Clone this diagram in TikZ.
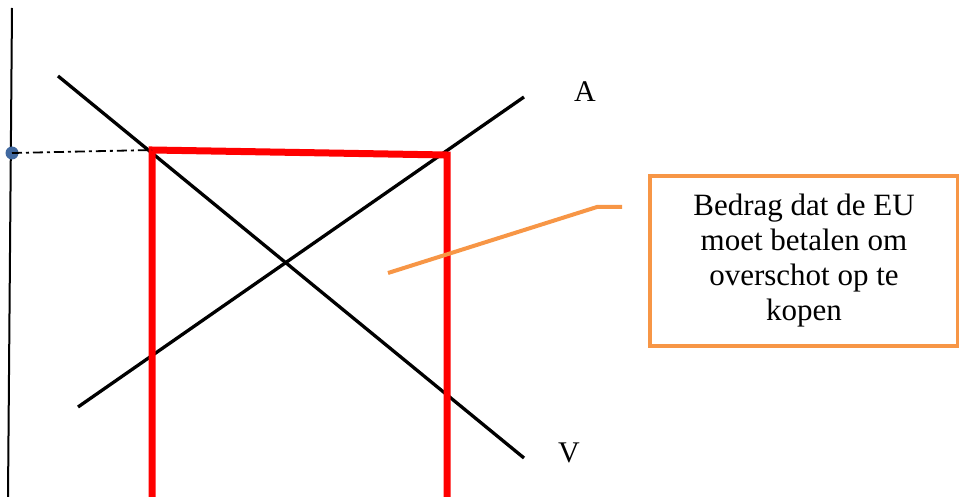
\documentclass[tikz,border=0pt]{standalone}
\usepackage{fontspec}
\setmainfont{Liberation Serif}
\definecolor{redline}{RGB}{255,0,0}
\definecolor{orangeline}{RGB}{247,150,70}
\definecolor{dotblue}{RGB}{65,105,160}
\tikzset{
  curve/.style={black,line width=3.3pt},
  bar/.style={redline,line width=7pt},
  axisline/.style={black,line width=2pt},
  lbl/.style={font=\fontsize{30}{34}\selectfont,inner sep=0pt},
  callout/.style={orangeline,line width=4pt},
}
\begin{document}
\begin{tikzpicture}[x=1pt,y=-1pt]
\useasboundingbox (0,0) rectangle (959,497);
% axis
\coordinate (ax1) at (12,8);
\coordinate (ax2) at (8,497);
\draw[axisline] (ax1) -- (ax2);
% curves
\coordinate (v1) at (58,76);
\coordinate (v2) at (524,458);
\coordinate (a1) at (78,407);
\coordinate (a2) at (524,97);
\draw[curve] (v1) -- (v2);
\draw[curve] (a1) -- (a2);
% red bars
\coordinate (r1) at (152,497);
\coordinate (r2) at (152,150);
\coordinate (r3) at (447,155);
\coordinate (r4) at (447,497);
\draw[bar,line join=miter] (r1) -- (r2) -- (r3) -- (r4);
% dashed level line and dot
\node[circle,fill=dotblue,minimum size=13pt,inner sep=0pt] (dot) at (12,153) {};
\draw[black,line width=1.8pt,dash pattern=on 10pt off 4pt on 3pt off 4pt] (dot.center) -- (r2);
% labels
\node[lbl] (A) at (585,92) {A};
\node[lbl] (V) at (569,453) {V};
% callout box
\node[draw=orangeline,line width=4pt,minimum width=308pt,minimum height=170pt,
      align=center,font=\fontsize{31}{35}\selectfont,inner sep=0pt,anchor=north west]
  (box) at (648,174) {Bedrag dat de EU\\moet betalen om\\overschot op te\\kopen};
\coordinate (c0) at (388,273);
\coordinate (c1) at (597,207);
\coordinate (c2) at (622,207);
\draw[callout] (c0) -- (c1) -- (c2);
\end{tikzpicture}
\end{document}
